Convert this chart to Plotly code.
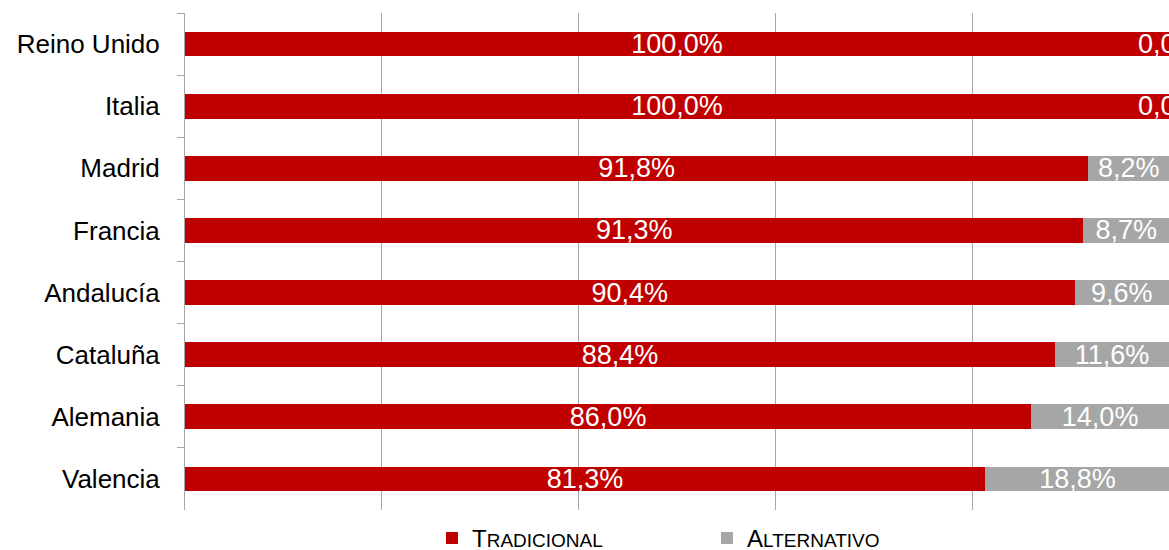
import plotly.graph_objects as go

regiones = ['Reino Unido', 'Italia', 'Madrid', 'Francia', 'Andalucía', 'Cataluña', 'Alemania', 'Valencia']
tradicional = [100.0, 100.0, 91.8, 91.3, 90.4, 88.4, 86.0, 81.3]
alternativo = [0.0, 0.0, 8.2, 8.7, 9.6, 11.6, 14.0, 18.8]

FONT = 'Liberation Sans'
RED = '#c00000'
GREY = '#a6a6a6'


def pct(v):
    return f'{v:.1f}%'.replace('.', ',')


fig = go.Figure()

fig.add_trace(go.Bar(
    y=regiones, x=tradicional, orientation='h',
    name='T<span style="font-size:19px">RADICIONAL</span>',
    marker=dict(color=RED, line=dict(width=0)),
    text=[pct(v) for v in tradicional],
    textposition='inside', insidetextanchor='middle',
    textfont=dict(color='white', size=27, family=FONT),
    hoverinfo='skip'
))

fig.add_trace(go.Bar(
    y=regiones, x=alternativo, orientation='h',
    name='A<span style="font-size:19px">LTERNATIVO</span>',
    marker=dict(color=GREY, line=dict(width=0)),
    text=[pct(v) for v in alternativo],
    textposition='inside', insidetextanchor='middle',
    textfont=dict(color='white', size=27, family=FONT),
    hoverinfo='skip'
))

# labels for zero-width segments sit on the bar end
for reg, t, a in zip(regiones, tradicional, alternativo):
    if a == 0:
        fig.add_annotation(x=t, y=reg, text=pct(a), showarrow=False,
                           xanchor='center', yanchor='middle',
                           font=dict(color='white', size=27, family=FONT))

fig.update_layout(
    barmode='stack',
    bargap=0.6,
    width=1169, height=550,
    margin=dict(l=185, r=0, t=13, b=40, autoexpand=False),
    plot_bgcolor='white', paper_bgcolor='white',
    font=dict(family=FONT, color='black'),
    uniformtext=dict(minsize=27, mode='show'),
    legend=dict(
        orientation='h', traceorder='normal',
        x=0.251, y=-0.057, xanchor='left', yanchor='middle',
        font=dict(size=24, family=FONT),
        entrywidth=230, entrywidthmode='pixels',
        bgcolor='rgba(0,0,0,0)'
    ),
    xaxis=dict(
        range=[0, 100], dtick=20, showticklabels=False,
        showgrid=True, gridcolor=GREY, gridwidth=1,
        zeroline=False, showline=False, fixedrange=True, automargin=False
    ),
    yaxis=dict(
        autorange='reversed', categoryorder='array', categoryarray=regiones,
        showline=True, linecolor=GREY, linewidth=1,
        ticks='outside', tickson='boundaries', ticklen=7, tickcolor=GREY,
        ticklabelstandoff=19, automargin=False,
        tickfont=dict(size=26, family=FONT, color='black'),
        showgrid=False, fixedrange=True
    )
)

# drop the default page margin so the figure fills the window exactly
fig.write_html('out.html', config=dict(displayModeBar=False), post_script=(
    "document.body.style.margin='0';"
    "document.documentElement.style.overflow='hidden';"
))
